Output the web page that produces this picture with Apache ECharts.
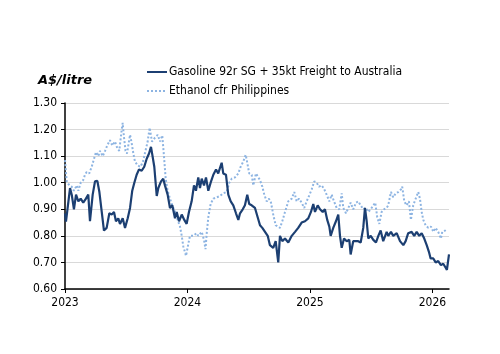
<!DOCTYPE html>
<html>
<head>
<meta charset="utf-8">
<script src="https://cdn.jsdelivr.net/npm/echarts@6/dist/echarts.min.js"></script>
<style>
  html, body { margin: 0; padding: 0; background: #fff; }
  #chart { width: 500px; height: 354px; }
</style>
</head>
<body>
<div id="chart"></div>
<script>
  // decimal years (x) and A$/litre (y)
  var gasYears = [
    2023.000, 2023.008, 2023.019, 2023.041, 2023.055, 2023.073, 2023.090, 2023.109, 2023.128, 2023.149,
    2023.171, 2023.190, 2023.204, 2023.226, 2023.245, 2023.264, 2023.280, 2023.300, 2023.318, 2023.340,
    2023.362, 2023.381, 2023.400, 2023.416, 2023.435, 2023.449, 2023.471, 2023.490, 2023.512, 2023.531,
    2023.549, 2023.566, 2023.585, 2023.604, 2023.626, 2023.647, 2023.667, 2023.686, 2023.702, 2023.713,
    2023.729, 2023.749, 2023.762, 2023.784, 2023.802, 2023.816, 2023.838, 2023.857, 2023.876, 2023.898,
    2023.912, 2023.931, 2023.953, 2023.974, 2023.993, 2024.012, 2024.034, 2024.053, 2024.069, 2024.088,
    2024.102, 2024.116, 2024.135, 2024.151, 2024.170, 2024.189, 2024.211, 2024.233, 2024.251, 2024.279,
    2024.292, 2024.314, 2024.333, 2024.353, 2024.374, 2024.396, 2024.415, 2024.429, 2024.451, 2024.469,
    2024.488, 2024.504, 2024.524, 2024.551, 2024.573, 2024.592, 2024.611, 2024.633, 2024.655, 2024.673,
    2024.700, 2024.720, 2024.741, 2024.755, 2024.774, 2024.796, 2024.823, 2024.851, 2024.878, 2024.904,
    2024.932, 2024.959, 2024.986, 2025.008, 2025.027, 2025.041, 2025.063, 2025.082, 2025.104, 2025.122,
    2025.141, 2025.158, 2025.169, 2025.190, 2025.212, 2025.231, 2025.245, 2025.259, 2025.278, 2025.300,
    2025.321, 2025.332, 2025.353, 2025.376, 2025.394, 2025.414, 2025.435, 2025.449, 2025.463, 2025.476,
    2025.496, 2025.517, 2025.539, 2025.558, 2025.577, 2025.598, 2025.626, 2025.639, 2025.661, 2025.680,
    2025.708, 2025.735, 2025.762, 2025.781, 2025.802, 2025.830, 2025.851, 2025.871, 2025.892, 2025.912,
    2025.933, 2025.953, 2025.971, 2025.985, 2025.993, 2026.007, 2026.026, 2026.047, 2026.069, 2026.088,
    2026.108, 2026.118, 2026.135
  ];
  var gasValues = [
    0.885, 0.854, 0.86, 0.98, 0.955, 0.90, 0.955, 0.93, 0.94, 0.925,
    0.94, 0.955, 0.855, 0.955, 1.005, 1.007, 0.967, 0.89, 0.82, 0.83,
    0.885, 0.88, 0.89, 0.855, 0.866, 0.845, 0.866, 0.83, 0.866, 0.905,
    0.97, 1.00, 1.03, 1.05, 1.045, 1.06, 1.09, 1.11, 1.135, 1.105,
    1.06, 0.95, 0.98, 1.005, 1.015, 0.99, 0.955, 0.905, 0.915, 0.866,
    0.89, 0.855, 0.88, 0.86, 0.845, 0.89, 0.93, 0.99, 0.97, 1.02,
    0.98, 1.015, 0.99, 1.02, 0.97, 1.00, 1.03, 1.05, 1.035, 1.075,
    1.035, 1.03, 0.955, 0.93, 0.915, 0.885, 0.86, 0.885, 0.90, 0.915,
    0.955, 0.92, 0.915, 0.905, 0.87, 0.84, 0.83, 0.815, 0.80, 0.765,
    0.755, 0.78, 0.70, 0.80, 0.78, 0.79, 0.775, 0.80, 0.815, 0.83,
    0.85, 0.855, 0.866, 0.89, 0.92, 0.89, 0.915, 0.90, 0.89, 0.90,
    0.86, 0.835, 0.80, 0.83, 0.855, 0.88, 0.80, 0.755, 0.79, 0.78,
    0.785, 0.73, 0.78, 0.78, 0.78, 0.775, 0.83, 0.905, 0.855, 0.79,
    0.80, 0.785, 0.775, 0.80, 0.82, 0.78, 0.815, 0.80, 0.815, 0.80,
    0.81, 0.78, 0.765, 0.78, 0.81, 0.815, 0.80, 0.815, 0.80, 0.81,
    0.79, 0.765, 0.74, 0.715, 0.72, 0.715, 0.70, 0.705, 0.69, 0.695,
    0.68, 0.672, 0.73
  ];

  var ethYears = [
    2023.000, 2023.014, 2023.035, 2023.055, 2023.073, 2023.096, 2023.109, 2023.128, 2023.149, 2023.163,
    2023.177, 2023.198, 2023.218, 2023.237, 2023.253, 2023.272, 2023.286, 2023.308, 2023.327, 2023.345,
    2023.367, 2023.386, 2023.408, 2023.427, 2023.443, 2023.463, 2023.471, 2023.482, 2023.494, 2023.506,
    2023.531, 2023.544, 2023.558, 2023.571, 2023.593, 2023.616, 2023.637, 2023.657, 2023.675, 2023.691,
    2023.710, 2023.735, 2023.757, 2023.776, 2023.794, 2023.808, 2023.822, 2023.838, 2023.857, 2023.876,
    2023.898, 2023.920, 2023.939, 2023.953, 2023.966, 2023.988, 2024.007, 2024.020, 2024.047, 2024.075,
    2024.088, 2024.116, 2024.135, 2024.147, 2024.157, 2024.170, 2024.189, 2024.211, 2024.238, 2024.265,
    2024.292, 2024.320, 2024.341, 2024.361, 2024.388, 2024.415, 2024.434, 2024.456, 2024.475, 2024.488,
    2024.504, 2024.524, 2024.537, 2024.559, 2024.573, 2024.592, 2024.611, 2024.627, 2024.647, 2024.665,
    2024.682, 2024.700, 2024.720, 2024.736, 2024.755, 2024.774, 2024.796, 2024.823, 2024.851, 2024.872,
    2024.891, 2024.910, 2024.932, 2024.953, 2024.973, 2024.992, 2025.014, 2025.035, 2025.055, 2025.073,
    2025.096, 2025.117, 2025.136, 2025.158, 2025.177, 2025.196, 2025.218, 2025.239, 2025.259, 2025.272,
    2025.294, 2025.313, 2025.332, 2025.353, 2025.376, 2025.394, 2025.414, 2025.435, 2025.457, 2025.476,
    2025.496, 2025.517, 2025.533, 2025.549, 2025.566, 2025.585, 2025.604, 2025.626, 2025.639, 2025.661,
    2025.680, 2025.700, 2025.721, 2025.743, 2025.753, 2025.770, 2025.789, 2025.808, 2025.824, 2025.843,
    2025.863, 2025.884, 2025.898, 2025.912, 2025.925, 2025.944, 2025.966, 2025.988, 2026.007, 2026.026,
    2026.047, 2026.069, 2026.080, 2026.102, 2026.124
  ];
  var ethValues = [
    1.085, 1.005, 0.99, 0.985, 0.97, 0.99, 0.97, 1.00, 1.01, 1.03,
    1.04, 1.035, 1.06, 1.09, 1.115, 1.10, 1.12, 1.10, 1.12, 1.14,
    1.16, 1.14, 1.155, 1.13, 1.12, 1.20, 1.225, 1.17, 1.12, 1.11,
    1.18, 1.15, 1.11, 1.08, 1.065, 1.06, 1.08, 1.12, 1.155, 1.207,
    1.155, 1.17, 1.18, 1.155, 1.178, 1.10, 1.015, 0.97, 0.94, 0.915,
    0.89, 0.86, 0.835, 0.80, 0.76, 0.725, 0.77, 0.80, 0.80, 0.81,
    0.80, 0.815, 0.785, 0.75, 0.81, 0.87, 0.92, 0.94, 0.945, 0.95,
    0.96, 0.965, 1.00, 1.015, 1.02, 1.035, 1.06, 1.08, 1.105, 1.075,
    1.035, 1.03, 0.99, 1.035, 1.03, 1.01, 0.985, 0.955, 0.93, 0.94,
    0.925, 0.88, 0.84, 0.845, 0.83, 0.855, 0.89, 0.93, 0.94, 0.965,
    0.93, 0.94, 0.925, 0.905, 0.93, 0.95, 0.975, 1.005, 1.00, 0.985,
    0.99, 0.975, 0.955, 0.93, 0.955, 0.93, 0.905, 0.90, 0.96, 0.905,
    0.885, 0.905, 0.925, 0.90, 0.925, 0.93, 0.915, 0.90, 0.905, 0.89,
    0.90, 0.915, 0.925, 0.87, 0.845, 0.89, 0.90, 0.905, 0.915, 0.965,
    0.945, 0.96, 0.965, 0.975, 0.985, 0.93, 0.915, 0.93, 0.86, 0.915,
    0.94, 0.965, 0.94, 0.89, 0.86, 0.84, 0.83, 0.835, 0.815, 0.83,
    0.815, 0.79, 0.815, 0.82, 0.815
  ];

  var yearTicks = [2023, 2024, 2025, 2026];
  var seriesNames = ['Gasoline 92r SG + 35kt Freight to Australia', 'Ethanol cfr Philippines'];

  function pairs(xs, ys) {
    return xs.map(function (x, i) { return [x, ys[i]]; });
  }

  var font = '"DejaVu Sans Condensed", "DejaVu Sans", sans-serif';
  var chart = echarts.init(document.getElementById('chart'), null, { renderer: 'canvas' });

  chart.setOption({
    animation: false,
    backgroundColor: '#ffffff',
    textStyle: { fontFamily: font },
    legend: {
      orient: 'vertical',
      left: 141,
      top: 61,
      itemWidth: 20,
      itemHeight: 10,
      itemGap: 7,
      padding: 5,
      itemStyle: { opacity: 0, borderWidth: 0 },
      textStyle: { fontFamily: font, fontSize: 12, color: '#000', padding: [0, 0, 0, -3] },
      data: seriesNames
    },
    grid: { left: 65, right: 51, top: 103, bottom: 65, containLabel: false },
    xAxis: {
      type: 'value',
      min: 2023,
      max: 2026.135,
      splitLine: { show: false },
      axisLine: { lineStyle: { color: '#000', width: 1.5 } },
      axisTick: { show: true, length: 4, customValues: yearTicks, lineStyle: { color: '#000' } },
      axisLabel: {
        customValues: yearTicks,
        color: '#000',
        fontSize: 12,
        fontFamily: font,
        margin: 8,
        formatter: function (v) { return String(Math.round(v)); }
      }
    },
    yAxis: {
      type: 'value',
      min: 0.6,
      max: 1.3,
      interval: 0.1,
      name: 'A$/litre',
      nameLocation: 'end',
      nameGap: 16,
      nameTextStyle: { fontStyle: 'italic', fontWeight: 'bold', fontSize: 13, color: '#000', fontFamily: '"DejaVu Sans", sans-serif', align: 'center' },
      axisLine: { show: true, lineStyle: { color: '#000', width: 1.5 } },
      axisTick: { show: true, length: 4, lineStyle: { color: '#000' } },
      axisLabel: {
        color: '#000',
        fontSize: 12,
        fontFamily: font,
        margin: 8,
        formatter: function (v) { return v.toFixed(2); }
      },
      splitLine: { show: true, lineStyle: { color: '#d9d9d9', width: 1 } }
    },
    series: [
      {
        name: seriesNames[0],
        type: 'line',
        data: pairs(gasYears, gasValues),
        showSymbol: false,
        symbol: 'none',
        z: 3,
        lineStyle: { color: '#1c3f72', width: 2.2 },
        itemStyle: { color: '#1c3f72' }
      },
      {
        name: seriesNames[1],
        type: 'line',
        data: pairs(ethYears, ethValues),
        showSymbol: false,
        symbol: 'none',
        z: 2,
        lineStyle: { color: '#8db4e2', width: 2, type: 'dotted' },
        itemStyle: { color: '#8db4e2' }
      }
    ]
  });
</script>
</body>
</html>
